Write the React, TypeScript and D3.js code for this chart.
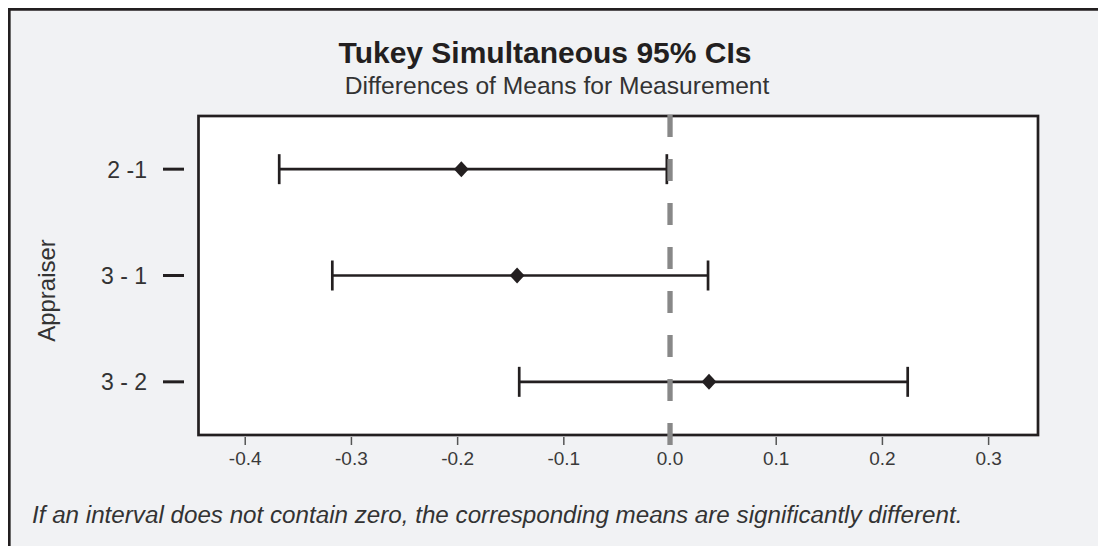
import React from "react";
import * as d3 from "d3";

const comparisons = ["2 -1", "3 - 1", "3 - 2"];
const lowerValues = [-0.368, -0.318, -0.142];
const meanValues = [-0.1965, -0.144, 0.0367];
const upperValues = [-0.003, 0.0358, 0.2238];
const xTicks = [-0.4, -0.3, -0.2, -0.1, 0.0, 0.1, 0.2, 0.3];

const titleText = "Tukey Simultaneous 95% CIs";
const subtitleText = "Differences of Means for Measurement";
const yAxisLabel = "Appraiser";
const footnoteText =
  "If an interval does not contain zero, the corresponding means are significantly different.";

const FONT = "'Liberation Sans', Arial, Helvetica, sans-serif";
const DARK = "#231f20";

export default function App() {
  const left = 198.5;
  const right = 1038;
  const top = 116;
  const bottom = 435;

  const x = d3.scaleLinear().domain([-0.444, 0.3465]).range([left, right]);
  const y = d3.scalePoint<string>().domain(comparisons).range([top, bottom]).padding(0.5);

  const diamond = (cx: number, cy: number) => {
    const p = d3.path();
    p.moveTo(cx, cy - 8);
    p.lineTo(cx + 7.4, cy);
    p.lineTo(cx, cy + 8);
    p.lineTo(cx - 7.4, cy);
    p.closePath();
    return p.toString();
  };

  return (
    <svg
      width={1090}
      height={538}
      viewBox="8 8 1090 538"
      style={{ display: "block", position: "absolute", left: 8, top: 8 }}
    >
      <rect x={8} y={8} width={1090} height={538} fill="#f1f2f4" />
      <line x1={9.3} y1={8} x2={9.3} y2={546} stroke={DARK} strokeWidth={2.7} />
      <line x1={8} y1={9.3} x2={1098} y2={9.3} stroke={DARK} strokeWidth={2.7} />

      <text x={545} y={63} textAnchor="middle" fontFamily={FONT} fontWeight="bold" fontSize={30} fill={DARK}>
        {titleText}
      </text>
      <text x={557} y={94} textAnchor="middle" fontFamily={FONT} fontSize={24.6} fill="#333">
        {subtitleText}
      </text>

      <rect x={left} y={top} width={right - left} height={bottom - top} fill="#fff" stroke={DARK} strokeWidth={2.7} />

      {comparisons.map((c) => (
        <g key={c}>
          <line x1={163} x2={184} y1={y(c)} y2={y(c)} stroke={DARK} strokeWidth={3} />
          <text x={147} y={(y(c) as number) + 8.5} textAnchor="end" fontFamily={FONT} fontSize={23} fill="#333">
            {c}
          </text>
        </g>
      ))}

      <text
        transform={`translate(55, 290.5) rotate(-90)`}
        textAnchor="middle"
        fontFamily={FONT}
        fontSize={24}
        fill="#333"
      >
        {yAxisLabel}
      </text>

      {xTicks.map((t) => (
        <g key={t}>
          <line x1={x(t)} x2={x(t)} y1={437} y2={445} stroke="#555" strokeWidth={1.5} />
          <text x={x(t)} y={465} textAnchor="middle" fontFamily={FONT} fontSize={19} fill="#3a3a3a">
            {t.toFixed(1)}
          </text>
        </g>
      ))}

      {comparisons.map((c, i) => {
        const cy = y(c) as number;
        return (
          <g key={"ci" + c}>
            <line x1={x(lowerValues[i])} x2={x(upperValues[i])} y1={cy} y2={cy} stroke={DARK} strokeWidth={2.6} />
            <line x1={x(lowerValues[i])} x2={x(lowerValues[i])} y1={cy - 15} y2={cy + 15} stroke={DARK} strokeWidth={2.7} />
            <line x1={x(upperValues[i])} x2={x(upperValues[i])} y1={cy - 15} y2={cy + 15} stroke={DARK} strokeWidth={2.7} />
            <path d={diamond(x(meanValues[i]), cy)} fill={DARK} />
          </g>
        );
      })}

      <line x1={x(0)} x2={x(0)} y1={115} y2={445} stroke="#888" strokeWidth={5.3} strokeDasharray="22,22" />

      <text x={32} y={523} fontFamily={FONT} fontStyle="italic" fontSize={24.2} fill="#333">
        {footnoteText}
      </text>
    </svg>
  );
}
